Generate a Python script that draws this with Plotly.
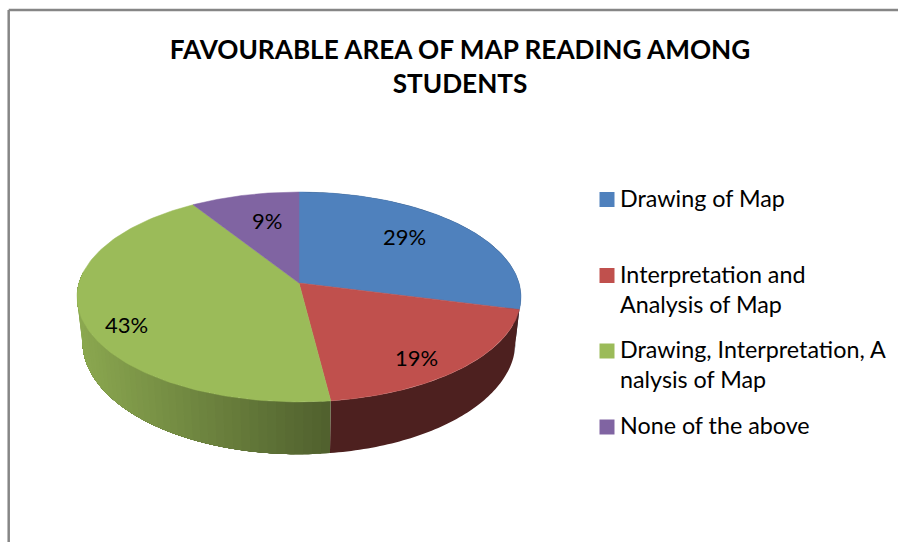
import math
import plotly.graph_objects as go

# ---- data ----
categories = ["Drawing of Map", "Interpretation and Analysis of Map",
              "Drawing, Interpretation, Analysis of Map", "None of the above"]
values = [29, 19, 43, 9]
legend_lines = [["Drawing of Map"], ["Interpretation and", "Analysis of Map"],
                ["Drawing, Interpretation, A", "nalysis of Map"], ["None of the above"]]
title_text = "FAVOURABLE AREA OF MAP READING AMONG<br>STUDENTS"

# ---- style ----
colors = ["#4F81BD", "#C0504D", "#9BBB59", "#8064A2"]
FONT = "Lato, 'Open Sans', sans-serif"
W, H = 898, 542
CX, CY, RX, RY, K = 299, 283, 220, 103.1, -0.133
BASE_CY, BASE_SX, BASE_SY = 327, 0.975, 1.07
label_r = [0.64, 0.745, 0.815, 0.56]
label_turn = [0, 0, -3.5, 0]
legend_y = [199.5, 275.5, 351, 427]
LEGEND_TEXT_SHIFT = -2
LEGEND_STEP = 30


def top(t, r=1.0, lift=1.0):
    X, Y = r * math.sin(t), -r * math.cos(t)
    d = 1 + K * Y
    return CX + RX * X / d, CY + lift * RY * Y / d


def base(t):
    X, Y = math.sin(t), -math.cos(t)
    d = 1 + K * Y
    return CX + BASE_SX * RX * X / d, BASE_CY + BASE_SY * RY * Y / d


def shade(hexcol, f):
    c = [int(hexcol[i:i + 2], 16) for i in (1, 3, 5)]
    return "rgb(%d,%d,%d)" % tuple(round(v * f) for v in c)


def wall(t_from, t_to, color):
    m = max(2, int((t_to - t_from) / math.radians(1)))
    ts = [t_from + (t_to - t_from) * j / m for j in range(m + 1)]
    p = [top(t) for t in ts] + [base(t) for t in reversed(ts)]
    p.append(p[0])
    fig.add_trace(go.Scatter(x=[q[0] for q in p], y=[q[1] for q in p], mode="none",
                             fill="toself", fillcolor=color,
                             hoverinfo="skip", showlegend=False))


fig = go.Figure()
total = sum(values)
edges = [0.0]
for v in values:
    edges.append(edges[-1] + 2 * math.pi * v / total)

# side wall; each shading step overlaps the next so no seams show
VIS_END = math.radians(276)
for i, col in enumerate(colors):
    a, b = edges[i], min(edges[i + 1], VIS_END)
    if b <= a:
        continue
    if i == 2:
        n = 50
        for j in range(n):
            t0 = a + (b - a) * j / n
            frac = max(0.0, min(1.0, (top(a)[0] - top(t0)[0]) / 254))
            wall(t0, b, shade(col, 0.52 + 0.38 * frac))
    else:
        wall(a, b, shade(col, 0.40 if i == 1 else 0.45))

# top faces
for i, (name, col) in enumerate(zip(categories, colors)):
    n = 120
    pts = [(CX, CY)] + [top(edges[i] + (edges[i + 1] - edges[i]) * j / n) for j in range(n + 1)] + [(CX, CY)]
    fig.add_trace(go.Scatter(x=[q[0] for q in pts], y=[q[1] for q in pts], mode="lines",
                             fill="toself", fillcolor=col, line=dict(color=col, width=0.5),
                             name=name, hoverinfo="name", showlegend=False))

# percentage labels
for i, v in enumerate(values):
    mid = (edges[i] + edges[i + 1]) / 2 + math.radians(label_turn[i])
    x, y = top(mid, label_r[i], 1.2)
    fig.add_annotation(x=x, y=y, text=f"{v}%", showarrow=False,
                       font=dict(family=FONT, size=22, color="#000000"))

# legend
fig.add_trace(go.Scatter(x=[607] * 4, y=legend_y, mode="markers", hoverinfo="skip", showlegend=False,
                         marker=dict(symbol="square", size=15, color=colors, line=dict(width=0))))
for lines, y0 in zip(legend_lines, legend_y):
    for k, line in enumerate(lines):
        fig.add_annotation(x=618, y=y0 + LEGEND_TEXT_SHIFT + k * LEGEND_STEP, text=line, showarrow=False,
                           xanchor="left", yanchor="middle", align="left",
                           font=dict(family=FONT, size=23.3, color="#000000"))

# chart frame (runs off the picture on the right and bottom)
frame = dict(color="#868686", width=2.5)
fig.add_shape(type="line", x0=8.7, x1=W + 5, y0=10, y1=10, line=frame)
fig.add_shape(type="line", x0=8.7, x1=8.7, y0=10, y1=H + 5, line=frame)

fig.update_layout(
    width=W, height=H, margin=dict(l=0, r=0, t=0, b=0),
    paper_bgcolor="#FFFFFF", plot_bgcolor="#FFFFFF", showlegend=False,
    title=dict(text=title_text, x=460 / W, xanchor="center", xref="paper",
               y=1 - 59 / H, yanchor="top", yref="paper",
               font=dict(family=FONT, size=26.2, color="#000000", weight="bold")),
    xaxis=dict(range=[0, W], visible=False, fixedrange=True),
    yaxis=dict(range=[H, 0], visible=False, fixedrange=True),
)
fig.write_html("out.html", config=dict(displayModeBar=False),
               post_script="document.body.style.margin='0';document.documentElement.style.overflow='hidden';")
